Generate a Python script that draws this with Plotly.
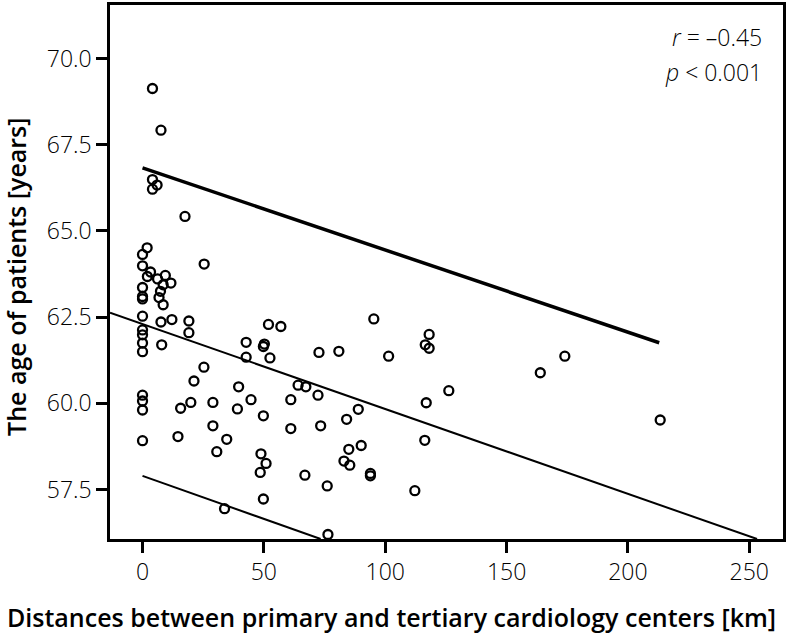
import plotly.graph_objects as go

# distances [km] and patient age [years]
distance_km = [4.1, 7.6, 4.1, 6.0, 4.1, 17.5, 25.4, 1.9, 0, 0,
               3.3, 2.0, 6.2, 9.4, 11.7, 8.5, 7.4, 6.8, 8.5, 0,
               0, 0, 0, 95.3, 7.6, 12.1, 19.1, 19.1, 0, 0,
               0, 0, 7.9, 51.9, 57.0, 42.7, 50.2, 49.8, 42.7, 52.5,
               72.7, 80.9, 101.4, 25.3, 21.2, 0, 0, 0, 15.7, 19.9,
               29.0, 39.6, 44.7, 39.1, 49.8, 61.1, 64.1, 67.3, 72.3, 88.9,
               84.1, 0, 14.6, 29.0, 34.7, 30.6, 61.1, 73.4, 48.8, 50.9,
               48.5, 66.9, 85.0, 90.1, 83.0, 85.4, 93.9, 93.9, 76.1, 49.8,
               33.8, 76.4, 118.1, 116.5, 118.1, 174.0, 163.9, 126.2, 116.9, 213.3,
               116.3, 112.2]
age_years = [69.13, 67.92, 66.49, 66.33, 66.21, 65.42, 64.04, 64.51, 64.32, 63.99,
             63.81, 63.68, 63.61, 63.71, 63.49, 63.44, 63.25, 63.07, 62.86, 63.36,
             63.10, 63.03, 62.53, 62.45, 62.36, 62.43, 62.39, 62.05, 62.13, 61.99,
             61.75, 61.50, 61.70, 62.29, 62.23, 61.77, 61.72, 61.65, 61.34, 61.32,
             61.48, 61.51, 61.37, 61.05, 60.65, 60.24, 60.07, 59.81, 59.86, 60.03,
             60.03, 60.48, 60.11, 59.84, 59.64, 60.11, 60.53, 60.48, 60.24, 59.83,
             59.54, 58.92, 59.04, 59.35, 58.96, 58.60, 59.27, 59.35, 58.54, 58.26,
             58.00, 57.92, 58.67, 58.78, 58.33, 58.21, 57.97, 57.90, 57.61, 57.23,
             56.95, 56.20, 62.00, 61.70, 61.60, 61.37, 60.89, 60.37, 60.02, 59.52,
             58.93, 57.47]

# regression line and the two bounds (end points)
fit_x = [-13.4, 253.2]
fit_y = [62.63, 56.07]
upper_x = [0, 212.9]
upper_y = [66.83, 61.76]
lower_x = [0, 73.4]
lower_y = [57.90, 56.07]

x_ticks = [0, 50, 100, 150, 200, 250]
y_ticks = [57.5, 60.0, 62.5, 65.0, 67.5, 70.0]

fig = go.Figure()
fig.add_trace(go.Scatter(x=fit_x, y=fit_y, mode="lines",
                         line=dict(color="black", width=2)))
fig.add_trace(go.Scatter(x=upper_x, y=upper_y, mode="lines",
                         line=dict(color="black", width=3.5)))
fig.add_trace(go.Scatter(x=lower_x, y=lower_y, mode="lines",
                         line=dict(color="black", width=2)))
fig.add_trace(go.Scatter(x=distance_km, y=age_years, mode="markers",
                         marker=dict(symbol="circle-open", size=9, color="black",
                                     line=dict(width=2.3, color="black"))))

light_font = dict(family="Open Sans", size=23, color="black", weight=300)
axis_style = dict(showgrid=False, zeroline=False, showline=True, mirror=True,
                  linecolor="black", linewidth=2.5, ticks="outside", ticklen=11,
                  tickwidth=2.5, tickcolor="black", tickfont=light_font)

fig.update_xaxes(range=[-13.4, 263.9], tickvals=x_ticks, **axis_style)
fig.update_yaxes(range=[56.07, 71.55], tickvals=y_ticks, tickformat=".1f", **axis_style)

title_font = dict(family="Open Sans", size=25, color="black", weight=600)
fig.update_layout(
    width=788, height=636,
    margin=dict(l=110, r=2, t=2, b=97),
    plot_bgcolor="white", paper_bgcolor="white",
    showlegend=False,
    annotations=[
        dict(text="Distances between primary and tertiary cardiology centers [km]",
             xref="paper", yref="paper", x=0.4186, y=-0.146, xanchor="center",
             yanchor="middle", showarrow=False, font=title_font),
        dict(text="The age of patients [years]", textangle=-90,
             xref="paper", yref="paper", x=-0.139, y=0.4916, xanchor="center",
             yanchor="middle", showarrow=False, font=title_font),
        dict(text="<i>r</i> = –0.45", xref="paper", yref="paper",
             x=0.972, y=0.94, xanchor="right", yanchor="middle", showarrow=False,
             font=light_font),
        dict(text="<i>p</i> < 0.001", xref="paper", yref="paper",
             x=0.972, y=0.875, xanchor="right", yanchor="middle", showarrow=False,
             font=light_font),
    ],
)

# the page's default body margin would shift the figure by 8px
fig.write_html("out.html", config={"displayModeBar": False},
               post_script="document.body.style.margin='0';")
